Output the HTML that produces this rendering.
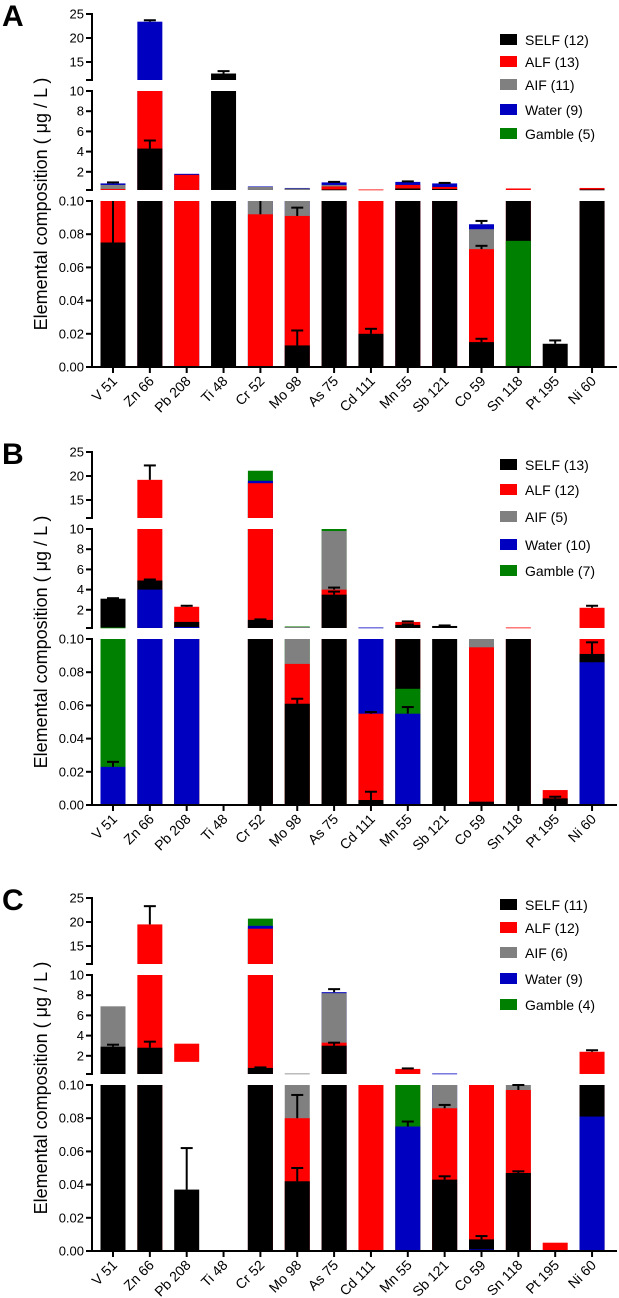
<!DOCTYPE html>
<html><head><meta charset="utf-8"><style>
body{margin:0;background:#fff;width:619px;height:1298px;overflow:hidden}
svg{display:block;font-family:"Liberation Sans",Arial,sans-serif}
</style></head><body>
<svg id="chart" width="619" height="1298" viewBox="0 0 619 1298"></svg>
<script>
const categories=["V 51","Zn 66","Pb 208","Ti 48","Cr 52","Mo 98","As 75","Cd 111","Mn 55","Sb 121","Co 59","Sn 118","Pt 195","Ni 60"];
const seriesNames=["SELF","ALF","AIF","Water","Gamble"];
const seriesColors=["#000000","#ff0000","#808080","#0000c0","#008000"];
const yTopTicks=[25,20,15];
const yMidTicks=[10,8,6,4,2];
const yLowTicks=[0.10,0.08,0.06,0.04,0.02,0.00];
// Panel A values
const aSelf=[0.075,4.3,0,12.6,0,0.013,0.25,0.02,0.35,0.3,0.015,0.15,0.014,0.25];
const aAlf=[0.3,11,1.7,0,0.092,0.091,0.55,0.25,0.7,0.5,0.071,0.35,0,0.4];
const aAif=[0.7,0,0,0,0.5,0.35,0.7,0,0,0,0.083,0,0,0];
const aWater=[0.85,23.4,1.8,0,0.55,0.4,0.95,0,1.0,0.85,0.086,0,0,0];
const aGamble=[0,0,0,0,0,0,0,0,0,0,0,0.076,0,0];
const aAlfBase=[0,0,0,0,0,0,0,0,0,0,0,0,0,0];
const aSelfErr=[0.03,0.8,0,0.5,0,0.009,0,0.003,0,0,0.002,0,0.002,0];
const aAlfErr=[0,0,0,0,0.01,0.005,0,0,0,0,0.002,0,0,0];
const aWaterErr=[0.1,0.3,0,0,0,0,0.05,0,0.05,0.05,0.002,0,0,0];
const aLegend=["SELF (12)","ALF (13)","AIF (11)","Water (9)","Gamble (5)"];
// Panel B values
const bSelf=[3.1,4.9,0.8,0,1.0,0.061,3.5,0.003,0.5,0.4,0.002,0.15,0.004,0.091];
const bAlf=[0,19.2,2.3,0,18.5,0.085,4.0,0.055,0.8,0,0.095,0.25,0.009,2.2];
const bAif=[0,0,0,0,0,0.3,9.8,0,0,0,0.12,0,0,0];
const bWater=[0.023,4.0,0.3,0,19.0,0,0,0.25,0.055,0,0,0,0,0.086];
const bGamble=[0.25,0,0,0,21.1,0.35,10,0,0.07,0,0,0,0,0];
const bAlfBase=[0,0,0,0,0,0,0,0,0,0,0,0,0,0];
const bSelfErr=[0.05,0.1,0,0,0.05,0.003,0.3,0.005,0.05,0.05,0,0,0.001,0];
const bAlfErr=[0,3,0.1,0,0,0,0.2,0.001,0.05,0,0,0,0,0.2];
const bWaterErr=[0.003,0,0,0,0,0,0,0,0.004,0,0,0,0,0.012];
const bLegend=["SELF (13)","ALF (12)","AIF (5)","Water (10)","Gamble (7)"];
// Panel C values
const cSelf=[2.9,2.8,0.037,0,0.8,0.042,3.0,0,0,0.043,0.007,0.047,0,0.15];
const cAlf=[0,19.5,3.2,0,18.6,0.08,3.3,0.15,0.7,0.086,0.15,0.097,0.005,2.4];
const cAif=[6.9,0,0,0,0,0.25,8.2,0,0,0.15,0,0.15,0,0];
const cWater=[0,0,0,0,19.2,0,8.3,0,0.075,0.25,0.001,0,0,0.081];
const cGamble=[0,0,0,0,20.7,0,0,0,0.15,0,0,0,0,0];
const cAlfBase=[0,0,1.4,0,0,0,0,0,0,0,0,0,0,0];
const cSelfErr=[0.2,0.6,0.025,0,0.05,0.008,0.3,0,0,0.002,0.002,0.001,0,0];
const cAlfErr=[0,3.8,0,0,0,0.014,0,0,0.05,0.002,0,0.003,0,0.15];
const cWaterErr=[0,0,0,0,0,0,0.3,0,0.003,0,0,0,0,0];
const cLegend=["SELF (11)","ALF (12)","AIF (6)","Water (9)","Gamble (4)"];

const NS="http://www.w3.org/2000/svg";
const svg=document.getElementById('chart');
function mk(tag,attrs,parent){const e=document.createElementNS(NS,tag);for(const k in attrs)e.setAttribute(k,attrs[k]);(parent||svg).appendChild(e);return e;}
const AX=92, XR=617, BW=25;
function xPos(i){return 113+i*36.85;}
const segs=[
 {lo:11.25,hi:25,y:(v)=>(25-v)*4.8,top:0,bot:66,ticks:yTopTicks,fmt:v=>String(v)},
 {lo:0.2,hi:10,y:(v)=>77+(10-v)*10.1,top:77,bot:176,ticks:yMidTicks,fmt:v=>String(v)},
 {lo:0,hi:0.1,y:(v)=>187+(0.1-v)*1660,top:187,bot:353,ticks:yLowTicks,fmt:v=>v.toFixed(2)}
];
function panel(letter,yT,vals,alfBase,errs,legend,legY){
  const g=mk('g',{});
  
  
  const L=mk('text',{x:2,y:yT+12,'font-size':30,'font-weight':'bold'},g);L.textContent=letter;
  
  
  const tt=mk('text',{x:0,y:0,'font-size':18,'text-anchor':'middle',transform:`translate(47,${yT+190}) rotate(-90)`},g);
  tt.textContent="Elemental composition ( μg / L )";
  
  
  categories.forEach((c,i)=>{
    const order=[0,1,2,3,4].filter(s=>vals[s][i]>0).sort((a,b)=>vals[b][i]-vals[a][i]);
    const cx=xPos(i);
    segs.forEach(sg=>{
      order.forEach(s=>{
        const v=vals[s][i];
        const base=Math.max(sg.lo,s==1?alfBase[i]:0);
        if(v<=base) return;
        if(base>=sg.hi) return;
        const top=Math.min(v,sg.hi);
        const y1=yT+sg.y(top), y0=yT+sg.y(base);
        const r=mk('rect',{x:cx-BW/2,y:y1,width:BW,height:Math.max(y0-y1,0.8),fill:seriesColors[s]},g);
        
        
      });
      [0,1,3].forEach((s,k)=>{
        const v=vals[s][i], e=errs[k][i];
        if(!(v>0&&e>0)) return;
        const a=Math.max(v,sg.lo), b=Math.min(v+e,sg.hi);
        if(b<=a) return;
        const eg=mk('g',{stroke:'#000','stroke-width':2},g);
        
        
        mk('line',{x1:cx,x2:cx,y1:yT+sg.y(a),y2:yT+sg.y(b)},eg);
        if(v+e<=sg.hi) mk('line',{x1:cx-6,x2:cx+6,y1:yT+sg.y(b),y2:yT+sg.y(b)},eg);
      });
    });
  });
  segs.forEach((sg,si)=>{
    const ag=mk('g',{stroke:'#000','stroke-width':2},g);
    
    
    mk('line',{x1:AX,x2:AX,y1:yT+sg.top-1,y2:yT+sg.bot+1},ag);
    mk('line',{x1:AX-6,x2:AX,y1:yT+sg.bot,y2:yT+sg.bot},ag);
    mk('line',{x1:AX-6,x2:AX,y1:yT+sg.top,y2:yT+sg.top},ag);
    sg.ticks.forEach(t=>{
      const y=yT+sg.y(t);
      mk('line',{x1:AX-6,x2:AX,y1:y,y2:y},ag);
      const tx=mk('text',{x:AX-8,y:y+4.5,'font-size':13,'text-anchor':'end',stroke:'none',fill:'#000'},g);
      tx.textContent=sg.fmt(t);
      
      
    });
  });
  const xa=mk('line',{x1:AX-1,x2:XR,y1:yT+353,y2:yT+353,stroke:'#000','stroke-width':2},g);
  
  
  categories.forEach((c,i)=>{
    const cx=xPos(i);
    mk('line',{x1:cx,x2:cx,y1:yT+353,y2:yT+359,stroke:'#000','stroke-width':2},g);
    const t=mk('text',{x:cx+5,y:yT+368,'font-size':14,'text-anchor':'end',transform:`rotate(-45 ${cx+5} ${yT+368})`},g);
    t.textContent=c;
    
    
  });
  legend.forEach((l,s)=>{
    const y=legY[s];
    const lg=mk('g',{},g);
    
    
    mk('rect',{x:500,y:y-6,width:17,height:11,fill:seriesColors[s]},lg);
    const t=mk('text',{x:525,y:y+5,'font-size':14},lg);t.textContent=l;
  });
}
panel('A',14,[aSelf,aAlf,aAif,aWater,aGamble],aAlfBase,[aSelfErr,aAlfErr,aWaterErr],aLegend,[40,62,85,110,134]);
panel('B',452,[bSelf,bAlf,bAif,bWater,bGamble],bAlfBase,[bSelfErr,bAlfErr,bWaterErr],bLegend,[465,490,517,545,571]);
panel('C',898,[cSelf,cAlf,cAif,cWater,cGamble],cAlfBase,[cSelfErr,cAlfErr,cWaterErr],cLegend,[905,928,953,979,1005]);
</script>
</body></html>
